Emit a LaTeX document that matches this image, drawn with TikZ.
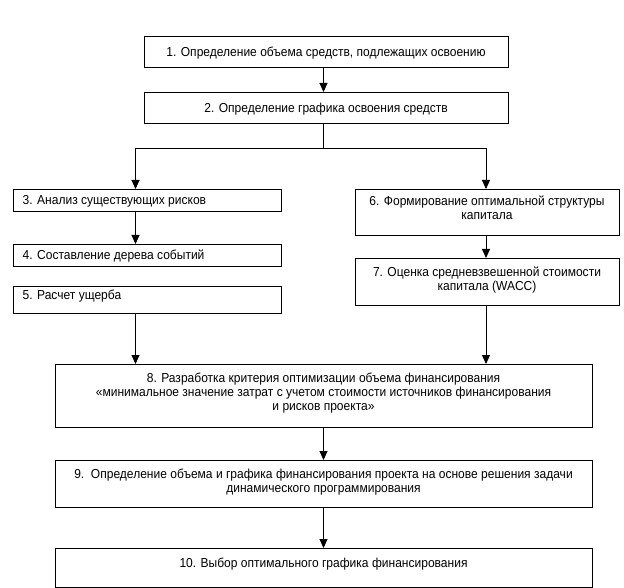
\documentclass[tikz,border=0pt]{standalone}
\usepackage{fontspec}
\setmainfont{Liberation Sans}[FakeStretch=0.925]
\usetikzlibrary{arrows.meta}
\begin{document}
\begin{tikzpicture}[x=1pt,y=-1pt,
  box/.style={draw=black, line width=0.9pt, fill=white, inner sep=0pt, anchor=north west},
  lbl/.style={inner sep=0pt, anchor=north, align=center, font=\fontsize{13}{13.7}\selectfont},
  lbll/.style={inner sep=0pt, anchor=north west, align=left, font=\fontsize{13}{13.7}\selectfont},
  conn/.style={draw=black, line width=0.9pt},
  arr/.style={conn, -{Triangle[length=9pt,width=8pt]}}]
\useasboundingbox (0,0) rectangle (624,588);
\fill[white] (0,0) rectangle (624,588);
% boxes
\node[box, minimum width=364pt, minimum height=31pt] (b1) at (144,36) {};
\node[box, minimum width=364pt, minimum height=31pt] (b2) at (144,92) {};
\node[box, minimum width=268pt, minimum height=22pt] (b3) at (13,189) {};
\node[box, minimum width=268pt, minimum height=22pt] (b4) at (13,244) {};
\node[box, minimum width=268pt, minimum height=27pt] (b5) at (13,286) {};
\node[box, minimum width=264pt, minimum height=46pt] (b6) at (355,189) {};
\node[box, minimum width=264pt, minimum height=47pt] (b7) at (355,258) {};
\node[box, minimum width=537pt, minimum height=63pt] (b8) at (55,364) {};
\node[box, minimum width=537pt, minimum height=47pt] (b9) at (55,460) {};
\node[box, minimum width=537pt, minimum height=39pt] (b10) at (55,548) {};
% labels
\node[lbl] (t1) at (326,47) {1. Определение объема средств, подлежащих освоению};
\node[lbl] (t2) at (326,103) {2. Определение графика освоения средств};
\node[lbll] (t3) at (22.5,195) {3. Анализ существующих рисков};
\node[lbll] (t4) at (22.5,250) {4. Составление дерева событий};
\node[lbll] (t5) at (22.5,290) {5. Расчет ущерба};
\node[lbl] (t6) at (487,196) {6. Формирование оптимальной структуры\\капитала};
\node[lbl] (t7) at (487,267) {7. Оценка средневзвешенной стоимости\\капитала (WACC)};
\node[lbl] (t8) at (323.5,373) {8. Разработка критерия оптимизации объема финансирования\\«минимальное значение затрат с учетом стоимости источников финансирования\\и рисков проекта»};
\node[lbl] (t9) at (323.5,469) {9.\ \ Определение объема и графика финансирования проекта на основе решения задачи\\динамического программирования};
\node[lbl] (t10) at (323.5,558) {10. Выбор оптимального графика финансирования};
% connectors
\coordinate (j) at (323.5,148);
\coordinate (lx) at (135.5,148);
\coordinate (rx) at (486,148);
\draw[arr] (b1.south -| j) -- (b2.north -| j);
\draw[conn] (b2.south -| j) -- (j);
\draw[arr] (j) -- (lx) -- (b3.north -| lx);
\draw[arr] (j) -- (rx) -- (b6.north -| rx);
\draw[arr] (b3.south -| lx) -- (b4.north -| lx);
\draw[arr] (b5.south -| lx) -- (b8.north -| lx);
\draw[arr] (b6.south -| rx) -- (b7.north -| rx);
\draw[arr] (b7.south -| rx) -- (b8.north -| rx);
\draw[arr] (b8.south -| j) -- (b9.north -| j);
\draw[arr] (b9.south -| j) -- (b10.north -| j);
\end{tikzpicture}
\end{document}
